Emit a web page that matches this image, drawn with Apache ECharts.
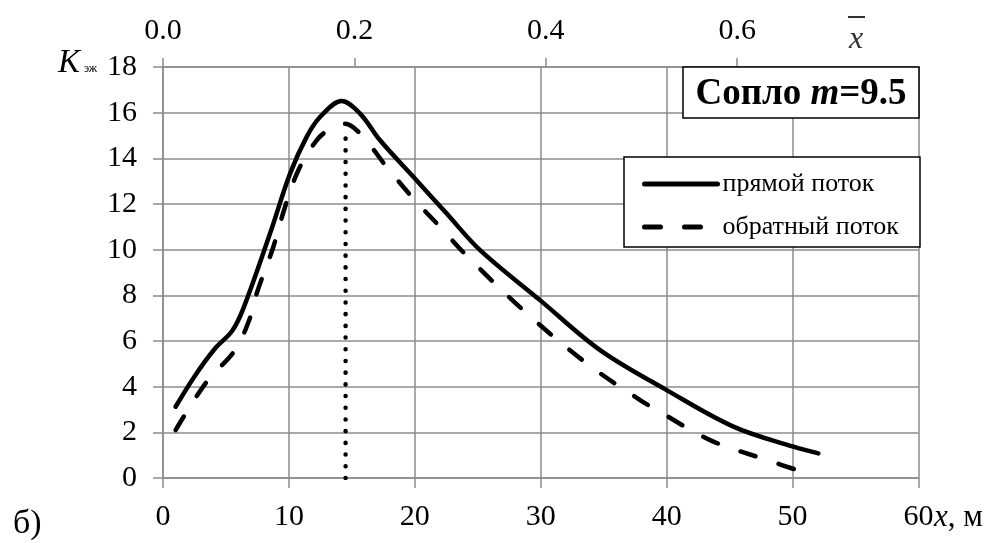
<!DOCTYPE html>
<html><head><meta charset="utf-8">
<script src="https://cdn.jsdelivr.net/npm/echarts@6/dist/echarts.min.js"></script>
<style>html,body{margin:0;padding:0;background:#fff}#c{width:992px;height:543px}</style>
</head><body><div id="c"></div>
<script>
// прямой поток
const directX = [1.0, 2.5, 4.1, 5.5, 6.4, 8.5, 10.09, 11.41, 12.47, 14.19, 15.65, 17.24, 19.88, 22.53, 25.18, 29.94, 34.71, 40.0, 45.3, 50.06, 52.05];
const directK = [3.12, 4.45, 5.65, 6.45, 7.45, 10.71, 13.33, 14.94, 15.81, 16.51, 15.96, 14.79, 13.19, 11.58, 9.98, 7.79, 5.6, 3.85, 2.25, 1.37, 1.08];
// обратный поток
const reverseX = [1.0, 3.47, 5.72, 7.04, 7.44, 8.76, 9.69, 10.75, 12.2, 13.3, 14.46, 15.78, 17.77, 19.88, 22.0, 24.2, 28.89, 33.65, 37.89, 39.21, 43.45, 47.95, 51.0];
const reverseK = [2.1, 4.22, 5.6, 7.2, 8.08, 10.12, 11.87, 13.48, 14.79, 15.3, 15.52, 15.01, 13.62, 12.24, 11.0, 9.69, 7.21, 5.02, 3.41, 2.98, 1.66, 0.79, 0.23];
// вертикальная пунктирная линия (максимум)
const markerX = [14.5, 14.5];
const markerK = [0, 15.0];
// оси
const xTicks = [0, 10, 20, 30, 40, 50, 60];
const yTicks = [0, 2, 4, 6, 8, 10, 12, 14, 16, 18];
const topTicks = [0.0, 0.2, 0.4, 0.6];
const topMax = 60 / 76;
const seriesNames = ['прямой поток', 'обратный поток'];

const FF = '"Liberation Serif", "Times New Roman", serif';
const GRID = '#8c8c8c';
const zip = (a, b) => a.map((v, i) => [v, b[i]]);

const chart = echarts.init(document.getElementById('c'), null, {renderer: 'canvas'});
const gl = {color: GRID, width: 1.5};
chart.setOption({
  animation: false,
  backgroundColor: '#fff',
  grid: {left: 163, right: 73.5, top: 67, bottom: 65},
  xAxis: [{
    type: 'value', position: 'bottom', min: xTicks[0], max: xTicks[xTicks.length - 1], interval: 10,
    axisLine: {show: true, lineStyle: gl},
    axisTick: {show: true, length: 10, lineStyle: gl},
    axisLabel: {fontSize: 30, color: '#000', fontFamily: FF, margin: 24},
    splitLine: {show: true, lineStyle: gl}
  }, {
    type: 'value', position: 'top', min: 0, max: topMax, interval: 0.2,
    axisLine: {show: true, lineStyle: gl},
    axisTick: {show: true, length: 9, lineStyle: gl, customValues: topTicks},
    axisLabel: {fontSize: 30, color: '#000', fontFamily: FF, margin: 21,
      customValues: topTicks, formatter: v => v.toFixed(1)},
    splitLine: {show: false}
  }],
  yAxis: {
    type: 'value', min: yTicks[0], max: yTicks[yTicks.length - 1], interval: 2,
    axisLine: {show: true, lineStyle: gl},
    axisTick: {show: true, length: 10, lineStyle: gl},
    axisLabel: {fontSize: 30, color: '#000', fontFamily: FF, margin: 26},
    splitLine: {show: true, lineStyle: gl}
  },
  legend: {
    orient: 'vertical', left: 642, top: 171, z: 10, padding: 0,
    itemWidth: 73, itemHeight: 16, itemGap: 17,
    textStyle: {fontSize: 26, fontFamily: FF, color: '#000'},
    itemStyle: {color: 'rgba(0,0,0,0)', borderColor: 'rgba(0,0,0,0)', borderWidth: 0},
    lineStyle: {width: 5, cap: 'round'},
    data: seriesNames
  },
  series: [{
    name: seriesNames[0], type: 'line', xAxisIndex: 0, data: zip(directX, directK),
    symbol: 'none', smooth: 0.35, z: 5,
    lineStyle: {color: '#000', width: 4.5, cap: 'round', join: 'round'},
    itemStyle: {color: '#000'}
  }, {
    name: seriesNames[1], type: 'line', xAxisIndex: 0, data: zip(reverseX, reverseK),
    symbol: 'none', smooth: 0.35, z: 5,
    lineStyle: {color: '#000', width: 4.5, type: [16, 24], cap: 'round', join: 'round'},
    itemStyle: {color: '#000'}
  }, {
    name: 'max', type: 'line', xAxisIndex: 0, data: zip(markerX, markerK),
    symbol: 'none', z: 4,
    lineStyle: {color: '#000', width: 4.5, type: [0.1, 11.6], cap: 'round'}
  }],
  graphic: [
    {type: 'rect', z: 8, shape: {x: 624, y: 157, width: 296, height: 90},
      style: {fill: '#fff', stroke: '#000', lineWidth: 1.5}},
    {type: 'rect', z: 8, shape: {x: 683, y: 67, width: 236, height: 51},
      style: {fill: '#fff', stroke: '#000', lineWidth: 1.5}},
    {type: 'text', z: 9, x: 801, y: 94,
      style: {text: '{b|Сопло }{bi|m}{b|=9.5}', align: 'center', verticalAlign: 'middle',
        rich: {b: {fontSize: 37, fontWeight: 'bold', fontFamily: FF, fill: '#000'},
               bi: {fontSize: 37, fontWeight: 'bold', fontStyle: 'italic', fontFamily: FF, fill: '#000'}}}},
    {type: 'text', z: 9, x: 58, y: 63,
      style: {text: 'K', fontSize: 33, fontStyle: 'italic', fontFamily: FF, fill: '#000', verticalAlign: 'middle'}},
    {type: 'text', z: 9, x: 84, y: 69,
      style: {text: 'эж', fontSize: 12, fontFamily: FF, fill: '#000', verticalAlign: 'middle'}},
    {type: 'text', z: 9, x: 856, y: 40,
      style: {text: 'x', fontSize: 32, fontStyle: 'italic', fontFamily: FF, fill: '#333', align: 'center', verticalAlign: 'middle'}},
    {type: 'line', z: 9, shape: {x1: 848, y1: 17, x2: 865, y2: 17}, style: {stroke: '#333', lineWidth: 2}},
    {type: 'text', z: 9, x: 934, y: 518,
      style: {text: '{i|x}{n|, м}', verticalAlign: 'middle',
        rich: {i: {fontSize: 31, fontStyle: 'italic', fontFamily: FF, fill: '#000'},
               n: {fontSize: 31, fontFamily: FF, fill: '#000'}}}},
    {type: 'text', z: 9, x: 13, y: 524,
      style: {text: 'б)', fontSize: 34, fontFamily: FF, fill: '#000', verticalAlign: 'middle'}}
  ]
});
</script></body></html>
